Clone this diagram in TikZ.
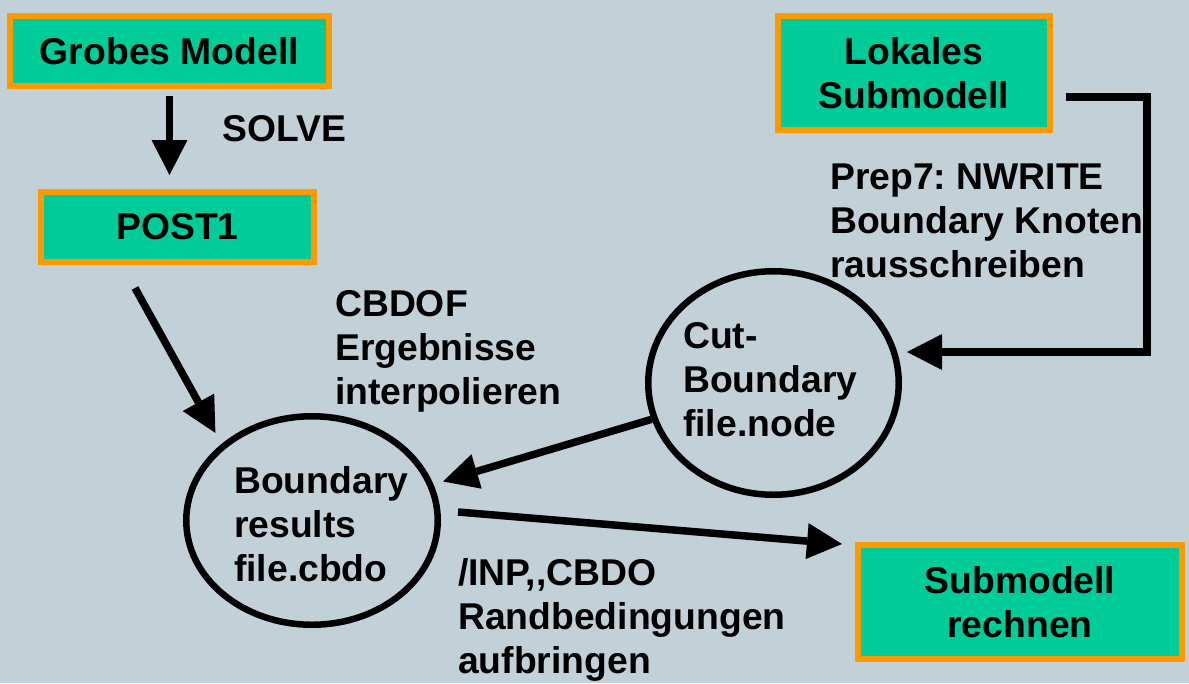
\documentclass[tikz,border=0pt]{standalone}
\usepackage{fontspec}
\setmainfont{Liberation Sans}
\usepackage{xcolor}
\usetikzlibrary{positioning,arrows.meta,shapes.geometric,calc}
\definecolor{slide}{RGB}{194,209,215}
\definecolor{boxfill}{RGB}{0,204,153}
\definecolor{boxline}{RGB}{255,153,0}
\newcommand{\slidefont}{\fontsize{37.3}{44}\selectfont\bfseries\frenchspacing}

\begin{document}
\begin{tikzpicture}[x=1pt, y=-1pt,
  box/.style={draw=boxline, fill=boxfill, line width=6pt, inner sep=0pt,
              align=center, font=\slidefont},
  blob/.style={ellipse, draw, line width=6.5pt, inner sep=0pt},
  arr/.style={-{Triangle[length=35pt, width=36pt, line width=0pt]}, line width=7.5pt},
  lbl/.style={anchor=north west, inner sep=0pt, align=left, font=\slidefont},
]
% slide background
\fill[slide] (0,0) rectangle (1189,683);
\useasboundingbox (0,0) rectangle (1189,683);

% boxes
\node[box, minimum width=319pt, minimum height=70pt]  (grob) at (169.5,51)  {Grobes Modell};
\node[box, minimum width=273pt, minimum height=70pt]  (post) at (177.5,227) {POST1};
\node[box, minimum width=272pt, minimum height=114pt] (lok)  at (914,73)    {Lokales\\Submodell};
\node[box, minimum width=324pt, minimum height=114pt] (sub)  at (1020,602)  {Submodell\\rechnen};

% files
\node[blob, minimum width=251.5pt, minimum height=208.5pt] (bnd) at (312,520.5) {};
\node[lbl] (bndtxt) at (234,466.3) {Boundary\\results\\file.cbdo};
\node[blob, minimum width=250.5pt, minimum height=223.5pt] (cut) at (773.5,383) {};
\node[lbl] (cuttxt) at (683,322.3) {Cut-\\Boundary\\file.node};

% commands
\node[lbl] (solve) at (222,115.3) {SOLVE};
\node[lbl] (nwr)   at (830,163.3) {Prep7: NWRITE\\Boundary Knoten\\rausschreiben};
\node[lbl] (cbdof) at (335,290.3) {CBDOF\\Ergebnisse\\interpolieren};
\node[lbl] (inp)   at (458,558.3) {/INP,{},CBDO\\Randbedingungen\\aufbringen};

% flow
\draw[arr] ($(grob.south)+(0,7)$) -- ($(grob.south |- post.north)+(0,-14)$);
\draw[arr] ($(post.south)+(-42.5,23)$) -- ($(bnd.135)+(-14,-5)$);
\coordinate (knee) at (1147,352);
\draw[arr] ($(lok.east)+(13,24)$) -| (knee) -- ($(cut.east)+(5,-31)$);
\draw[arr, shorten >=10pt] (cut) -- (bnd);
\draw[arr] ($(bnd.east)+(17,-8.5)$) -- ($(sub.north west)+(-13,2)$);
\end{tikzpicture}
\end{document}
